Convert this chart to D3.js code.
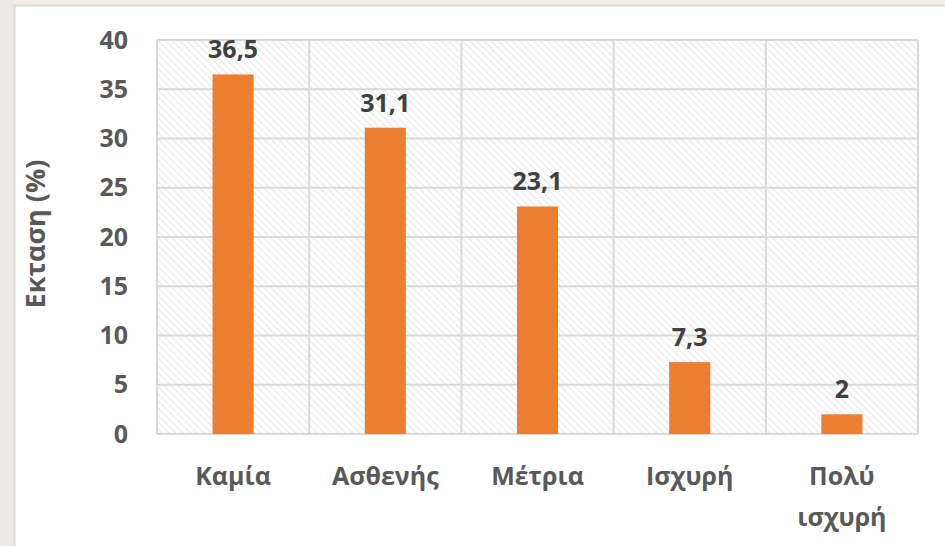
<!DOCTYPE html>
<html>
<head>
<meta charset="utf-8">
<script src="https://cdn.jsdelivr.net/npm/d3@7"></script>
<style>
  body { margin: 0; background: #f3eee3; }
  svg { display: block; }
  text { font-family: "Open Sans", "Noto Sans", sans-serif; font-weight: bold; }
</style>
</head>
<body>
<div id="chart"></div>
<script>
// Data
var categories = ["Καμία", "Ασθενής", "Μέτρια", "Ισχυρή", "Πολύ ισχυρή"];
var values = [36.5, 31.1, 23.1, 7.3, 2];
var yTicks = [0, 5, 10, 15, 20, 25, 30, 35, 40];

var svgWidth = 945;
var svgHeight = 546;
var fontSize = "25px";

var margin = { top: 40, right: 27, bottom: 112, left: 157 };
var width = 918 - margin.left;
var height = 434 - margin.top;

var svg = d3.select("#chart").append("svg")
    .attr("width", svgWidth)
    .attr("height", svgHeight);

// page background and the white chart box
svg.append("rect").attr("x", 0).attr("y", 0).attr("width", 14).attr("height", svgHeight)
    .attr("fill", "#ebe9e5");
svg.append("rect").attr("x", 14.5).attr("y", 5.5).attr("width", 940).attr("height", 560)
    .attr("fill", "#ffffff").attr("stroke", "#d9d9d9").attr("stroke-width", 2);

// hatch pattern for the plot area
var defs = svg.append("defs");
var pat = defs.append("pattern")
    .attr("id", "hatch")
    .attr("patternUnits", "userSpaceOnUse")
    .attr("width", 5).attr("height", 5)
    .attr("patternTransform", "rotate(-45)");
pat.append("rect").attr("width", 5).attr("height", 5).attr("fill", "#ffffff");
pat.append("line")
    .attr("x1", 0).attr("y1", 0).attr("x2", 0).attr("y2", 5)
    .attr("stroke", "#e6e6e6").attr("stroke-width", 2);

var chartGroup = svg.append("g")
    .attr("transform", `translate(${margin.left}, ${margin.top})`);

var xScale = d3.scaleBand()
    .domain(categories)
    .range([0, width])
    .padding(0);

var yScale = d3.scaleLinear()
    .domain([0, 40])
    .range([height, 0]);

chartGroup.append("rect")
    .attr("width", width).attr("height", height)
    .attr("fill", "url(#hatch)");

// horizontal gridlines
chartGroup.selectAll(".hgrid")
    .data(yTicks)
    .enter()
    .append("line")
    .attr("x1", 0).attr("x2", width)
    .attr("y1", d => yScale(d)).attr("y2", d => yScale(d))
    .attr("stroke", "#d9d9d9").attr("stroke-width", 2);

// vertical gridlines at category boundaries
var bounds = categories.map(c => xScale(c)).concat([width]);
chartGroup.selectAll(".vgrid")
    .data(bounds)
    .enter()
    .append("line")
    .attr("x1", d => d).attr("x2", d => d)
    .attr("y1", 0).attr("y2", height)
    .attr("stroke", "#d9d9d9").attr("stroke-width", 2);

// bars
var barW = xScale.bandwidth() * 0.27;
chartGroup.selectAll(".bar")
    .data(values)
    .enter()
    .append("rect")
    .attr("x", (d, i) => xScale(categories[i]) + xScale.bandwidth() / 2 - barW / 2)
    .attr("y", d => yScale(d))
    .attr("width", barW)
    .attr("height", d => height - yScale(d))
    .attr("fill", "#ed7d31");

// value labels
chartGroup.selectAll(".val")
    .data(values)
    .enter()
    .append("text")
    .attr("x", (d, i) => xScale(categories[i]) + xScale.bandwidth() / 2)
    .attr("y", d => yScale(d) - 16)
    .attr("text-anchor", "middle")
    .attr("font-size", fontSize)
    .attr("fill", "#404040")
    .text(d => String(d).replace(".", ","));

// y axis labels
var leftAxis = d3.axisLeft(yScale).tickValues(yTicks).tickSize(0).tickPadding(29);
var yAxis = chartGroup.append("g").call(leftAxis);
yAxis.select(".domain").remove();
yAxis.selectAll("text")
    .attr("font-size", fontSize)
    .attr("fill", "#595959")
    .attr("font-family", "'Open Sans', sans-serif");

// x axis labels (wrap "Πολύ ισχυρή")
var xAxis = chartGroup.append("g")
    .attr("transform", `translate(0, ${height})`);
xAxis.selectAll("text")
    .data(categories)
    .enter()
    .append("text")
    .attr("x", d => xScale(d) + xScale.bandwidth() / 2)
    .attr("y", 51)
    .attr("text-anchor", "middle")
    .attr("font-size", fontSize)
    .attr("fill", "#595959")
    .each(function (d) {
        var words = d.split(" ");
        var el = d3.select(this);
        var xx = xScale(d) + xScale.bandwidth() / 2;
        words.forEach(function (w, i) {
            el.append("tspan").attr("x", xx).attr("dy", i === 0 ? 0 : 41).text(w);
        });
    });

// y axis title
chartGroup.append("text")
    .attr("transform", "rotate(-90)")
    .attr("x", -height / 2 + 3)
    .attr("y", 45 - margin.left)
    .attr("text-anchor", "middle")
    .attr("font-size", "27px")
    .attr("fill", "#595959")
    .text("Εκταση (%)");
</script>
</body>
</html>
